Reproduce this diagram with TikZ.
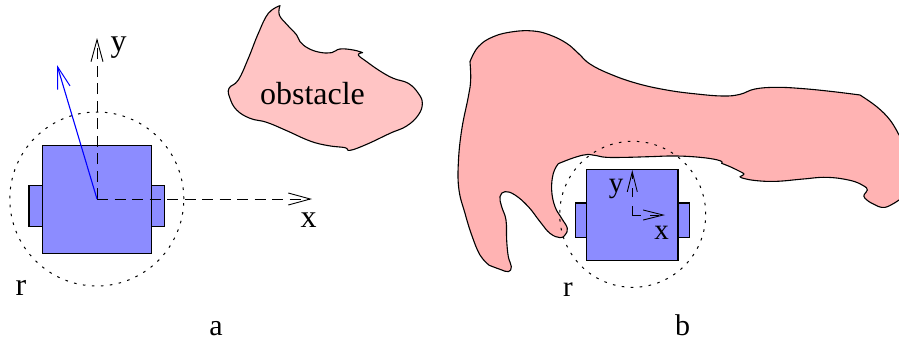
\documentclass[tikz,border=0pt]{standalone}
\usepackage{fontspec}
\setmainfont{Liberation Serif}
\usetikzlibrary{arrows.meta}
\definecolor{botblue}{HTML}{8C8CFF}
\definecolor{obsA}{HTML}{FFC4C4}
\definecolor{obsB}{HTML}{FFB3B3}
\tikzset{
  body/.style={draw=black,fill=botblue,line width=1.1pt},
  reach/.style={draw=black,line width=1pt,dash pattern=on 2.6pt off 6.4pt},
  axis/.style={draw=black,line width=.9pt,dash pattern=on 11pt off 6.5pt,-{Straight Barb[length=22pt,width=12pt,line width=.9pt]}},
  axisb/.style={draw=black,line width=.9pt,dash pattern=on 9pt off 9pt,-{Straight Barb[length=20pt,width=10pt,line width=.9pt]}},
  obstacleshape/.style={draw=black,line width=1.1pt,line join=round},
  lbl/.style={inner sep=0pt,font=\fontsize{32}{32}\selectfont},
  lblb/.style={inner sep=0pt,font=\fontsize{29}{29}\selectfont},
}
\begin{document}
\begin{tikzpicture}[x=1pt,y=-1pt]
\useasboundingbox (0,0) rectangle (899,343);
% left obstacle
\begin{scope}[x=0.33333pt,y=-0.33333pt]
\path[obstacleshape,fill=obsA] plot[smooth,tension=.7] coordinates {(840,17)(838,45)(862,75)(890,105)(900,125)(925,145)(960,157)(995,158)(1020,147)(1060,150)(1088,158)}
  -- plot[smooth,tension=.7] coordinates {(1088,158)(1075,165)(1100,185)(1140,213)(1180,235)(1225,250)(1255,280)(1267,310)(1255,345)(1220,378)(1170,400)(1100,433)(1050,451)(1035,443)(985,437)(930,423)(860,392)(800,367)(750,355)(710,330)(690,295)(687,265)(715,240)(745,175)(775,100)(805,40)(840,17)} -- cycle;
\end{scope}
% right obstacle
\begin{scope}[x=0.33333pt,y=-0.33333pt,shift={(1350,0)}]
\path[obstacleshape,fill=obsB] plot[smooth,tension=.7] coordinates {(60,185)(85,140)(130,110)(190,95)(250,93)(300,105)(350,130)(385,160)(420,192)(480,222)(560,250)(650,270)(740,282)(820,288)(870,283)(915,267)(980,262)(1060,266)(1150,275)(1230,285)}
  -- plot[smooth,tension=.7] coordinates {(1230,285)(1280,320)(1320,360)(1347,405)}
  -- (1349,405) -- (1349,600)
  -- plot[smooth,tension=.7] coordinates {(1347,600)(1305,622)(1270,612)(1245,595)(1243,583)(1252,570)(1240,557)(1200,541)(1130,532)(1060,537)(980,544)(920,542)(880,535)(870,530)}
  -- plot[smooth,tension=.5] coordinates {(870,530)(882,522)(865,512)(840,500)(815,490)}
  -- plot[smooth,tension=.7] coordinates {(815,490)(810,482)(760,473)(680,468)(600,470)(530,472)(470,472)(440,467)(415,463)(375,472)(325,491)}
  -- plot[smooth,tension=.7] coordinates {(325,491)(310,520)(305,570)(315,620)(335,655)(352,685)(345,705)(330,713)(300,700)(270,665)(235,620)(195,585)(165,575)(150,590)(155,620)(168,660)(170,720)(175,770)(184,800)(175,815)(150,808)(118,796)}
  -- plot[smooth,tension=.7] coordinates {(118,796)(90,765)(65,705)(45,640)(27,570)(25,490)(35,390)(55,290)(62,240)(60,185)} -- cycle;
\end{scope}
% robot a
\path[body] (29,185.3) rectangle (42.7,226.3);
\path[body] (151.3,185.3) rectangle (164.7,226.3);
\node[body,minimum width=108.6pt,minimum height=108.3pt,inner sep=0pt,anchor=center] (bodyA) at (97,199.2) {};
\node[reach,circle,minimum size=174pt,inner sep=0pt] (reachA) at (96.8,199) {};
\coordinate (oA) at (97,199);
\coordinate (xA) at (312,199);
\coordinate (yA) at (97,38);
\coordinate (hA) at (57,65);
\draw[axis] (oA) -- (yA);
\draw[axis] (oA) -- (xA);
\draw[draw=blue,line width=1.1pt,-{Straight Barb[length=22pt,width=13pt,line width=1pt]}] (oA) -- (hA);
% robot b
\path[body] (575.3,203) rectangle (586.7,237.7);
\path[body] (678,203) rectangle (689.7,237.7);
\node[body,minimum width=91.3pt,minimum height=91pt,inner sep=0pt] (bodyB) at (632.3,214.8) {};
\node[reach,circle,minimum size=146pt,inner sep=0pt] (reachB) at (632.7,214.3) {};
\coordinate (oB) at (632.3,215);
\coordinate (xB) at (665,215);
\coordinate (yB) at (632.3,170);
\draw[axisb] (oB) -- (yB);
\draw[axisb] (oB) -- (xB);
% labels
\node[lbl] (obst) at (312.5,94) {obstacle};
\node[lbl] (lx) at (308.5,220) {x};
\node[lbl] (ly) at (118.5,48) {y};
\node[lbl] (lr) at (21,288) {r};
\node[lbl,font=\fontsize{30}{30}\selectfont] (la) at (216,329) {a};
\node[lblb] (lxb) at (661.5,233) {x};
\node[lblb] (lyb) at (616,189) {y};
\node[lblb] (lrb) at (568,290) {r};
\node[lbl,font=\fontsize{30}{30}\selectfont] (lb) at (682.5,325) {b};
\end{tikzpicture}
\end{document}
